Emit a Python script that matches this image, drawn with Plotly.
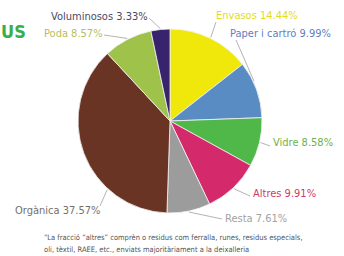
import math
import plotly.graph_objects as go

categories = ["Envasos", "Paper i cartró", "Vidre", "Altres", "Resta", "Orgànica", "Poda", "Voluminosos"]
values = [14.44, 9.99, 8.58, 9.91, 7.61, 37.57, 8.57, 3.33]
label_texts = ["Envasos 14.44%", "Paper i cartró 9.99%", "Vidre 8.58%", "Altres 9.91%",
               "Resta 7.61%", "Orgànica 37.57%", "Poda 8.57%", "Voluminosos 3.33%"]
footnote_lines = [
    "“La fracció “altres” comprèn o residus com ferralla, runes, residus especials,",
    "oli, tèxtil, RAEE, etc., enviats majoritàriament a la deixalleria",
]

slice_colors = ["#efe80a", "#5a8cc4", "#4fb848", "#d42a6c", "#9c9c9c", "#6a3424", "#9fc24a", "#37246c"]
text_colors = ["#e2dc20", "#5f80bf", "#6cb24e", "#cf3a6e", "#a2a2a2", "#76706a", "#b6c05c", "#4a4866"]

FONT = "DejaVu Sans Condensed, Roboto, sans-serif"
W, H = 344, 256
cx, cy, r = 170, 121, 92

# layout of the labels (pixels): text anchor point, horizontal anchor, leader start
label_xy = [(215, 15), (229, 33), (272, 142), (252, 193), (224, 218), (101, 210), (104, 33), (149, 16)]
label_xanchor = ["left", "left", "left", "left", "left", "right", "right", "right"]
leader_start = [(216, 22), (236, 40), (270, 146), (250, 196), (222, 219), (100, 206), (104, 35), (149, 18)]
attach_frac = [0.5, 0.35, 0.5, 0.5, 0.5, 0.3, 0.5, 0.5]


def px(x):
    return x / W


def py(y):
    return 1 - y / H


fig = go.Figure()
fig.add_trace(go.Pie(
    labels=categories, values=values, sort=False, direction="clockwise", rotation=0,
    marker=dict(colors=slice_colors, line=dict(color="#f4f4f4", width=0.8)),
    textinfo="none", showlegend=False,
    domain=dict(x=[px(cx - r), px(cx + r)], y=[py(cy + r), py(cy - r)]),
))

total = sum(values)
cum = 0.0
annotations = []
shapes = []
for i, v in enumerate(values):
    start = cum
    cum += v
    frac = (start + v * attach_frac[i]) / total
    ang = 2 * math.pi * frac
    hx = cx + (r + 1) * math.sin(ang)
    hy = cy - (r + 1) * math.cos(ang)
    sx, sy = leader_start[i]
    shapes.append(dict(type="line", xref="paper", yref="paper",
                       x0=px(sx), y0=py(sy), x1=px(hx), y1=py(hy),
                       line=dict(color="#b4b4b4", width=1)))
    tx, ty = label_xy[i]
    annotations.append(dict(
        x=px(tx), y=py(ty), xref="paper", yref="paper",
        xanchor=label_xanchor[i], yanchor="middle",
        text=label_texts[i], showarrow=False, borderpad=0,
        font=dict(family=FONT, size=11, color=text_colors[i]),
    ))

annotations.append(dict(
    x=0, y=py(31), xref="paper", yref="paper", xanchor="left", yanchor="middle",
    text="<b>US</b>", showarrow=False, borderpad=0,
    font=dict(family=FONT, size=18, color="#3aae48"),
))
for j, line in enumerate(footnote_lines):
    annotations.append(dict(
        x=px(43), y=py(237 + 12 * j), xref="paper", yref="paper",
        xanchor="left", yanchor="middle", align="left", borderpad=0,
        text=line, showarrow=False,
        font=dict(family=FONT, size=7.5, color="#555555"),
    ))

fig.update_layout(
    width=W, height=H, margin=dict(l=0, r=0, t=0, b=0),
    paper_bgcolor="white", plot_bgcolor="white",
    annotations=annotations, shapes=shapes,
)
fig.write_html("out.html", config={"displayModeBar": False},
               post_script="document.body.style.margin='0';")
